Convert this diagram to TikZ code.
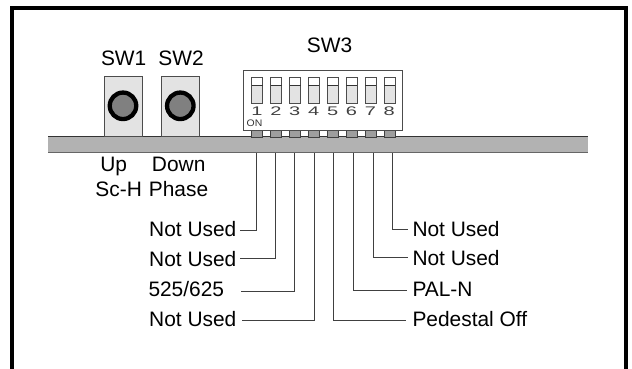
\documentclass[tikz,border=0pt]{standalone}
\usepackage{fontspec}
\setmainfont{Liberation Sans}
\definecolor{barfill}{gray}{0.70}
\definecolor{swfill}{gray}{0.89}
\definecolor{capfill}{gray}{0.5}
\definecolor{tabfill}{gray}{0.62}
\begin{document}
\begin{tikzpicture}[x=1pt,y=-1pt,
  lbl/.style={font=\fontsize{20.9}{22}\selectfont,inner sep=0pt,text=black},
  lblw/.style={lbl,anchor=base west},
  lblc/.style={lbl,anchor=base},
  wire/.style={draw=black!75,line width=0.9pt},
  pushsw/.style={draw=black!70,fill=swfill,line width=0.8pt},
  knob/.style={circle,draw=black,fill=capfill,line width=4.3pt,minimum size=26.5pt,inner sep=0pt},
  digit/.style={font=\fontsize{12.5}{14}\selectfont,inner sep=0pt,anchor=base,text=black!75},
  dip/.style={draw=black!70,fill=swfill,line width=0.6pt}]
\useasboundingbox (0,0) rectangle (632,369);
\path[fill=white] (0,0) rectangle (632,369);
% frame
\draw[line width=4pt,line cap=butt] (12,369) -- (12,8) -- (626,8) -- (626,369);
% bar
\draw[fill=barfill,draw=none] (48,136.5) rectangle (588,152.5);
\draw[line width=1.2pt,black!80] (48,136.5) -- (588,136.5);
\draw[line width=1.2pt,black!60] (48,152.5) -- (588,152.5);
% SW3 tabs
\foreach \i in {0,...,7}{
  \path[draw=black!75,fill=tabfill,line width=0.6pt] ({251.7+18.9*\i},130) rectangle ({262.7+18.9*\i},137.3);
}
% SW1, SW2
\draw[pushsw] (104,76) rectangle (142,136);
\draw[pushsw] (161.5,76) rectangle (199,136);
\node[knob] (k1) at (123,105.8) {};
\node[knob] (k2) at (180.3,105.8) {};
% SW3 body
\draw[draw=black!70,fill=white,line width=0.7pt] (243.4,70) rectangle (402,130);
\foreach \i [count=\n] in {0,...,7}{
  \path[dip,fill=white] ({251.7+18.9*\i},77) rectangle ({262.7+18.9*\i},85);
  \path[dip] ({251.7+18.9*\i},85) rectangle ({262.7+18.9*\i},103.3);
  \draw[line width=0.9pt,black!80] ({251.7+18.9*\i},85) -- ({262.7+18.9*\i},85);
  \node[digit] at ({257+18.9*\i},115.3) {\scalebox{1.6}[1]{\n}};
}
\node[inner sep=0pt,anchor=base,font=\fontsize{9.5}{10}\selectfont,text=black!80] (on) at (254.5,126) {\scalebox{1.1}[1]{ON}};
% headings
\node[lblc] (sw1) at (123.7,65.7) {SW1};
\node[lblc] (sw2) at (181,65.7) {SW2};
\node[lblc] (sw3) at (329.5,53) {SW3};
\node[lblc] (up) at (113.7,171.7) {Up};
\node[lblc] (down) at (178.7,171.7) {Down};
\node[lblc] (sch) at (118.7,196.7) {Sc-H};
\node[lblc] (phase) at (178.5,196.7) {Phase};
% labels
\node[lblw] (l1) at (149,236.7) {Not Used};
\node[lblw] (l2) at (149,266.7) {Not Used};
\node[lblw] (l3) at (148.3,296.7) {525/625};
\node[lblw] (l4) at (149,326.7) {Not Used};
\node[lblw] (r8) at (412.3,236.7) {Not Used};
\node[lblw] (r7) at (412.3,265) {Not Used};
\node[lblw] (r6) at (412.3,296.7) {PAL-N};
\node[lblw] (r5) at (412.3,326.7) {Pedestal Off};
% connector ends
\coordinate (p1) at (256,153);
\coordinate (p2) at (275,153);
\coordinate (p3) at (294.7,153);
\coordinate (p4) at (314.3,153);
\coordinate (p5) at (333.7,153);
\coordinate (p6) at (353.3,153);
\coordinate (p7) at (373,153);
\coordinate (p8) at (392.3,153);
\coordinate (e1) at (240.3,230);
\coordinate (e2) at (240,258);
\coordinate (e3) at (241,291);
\coordinate (e4) at (242.3,320.3);
\coordinate (e5) at (406,320);
\coordinate (e6) at (406.7,290.3);
\coordinate (e7) at (407.7,257.7);
\coordinate (e8) at (407.7,229);
\foreach \n in {1,...,8}{
  \draw[wire] (p\n) |- (e\n);
}
\end{tikzpicture}
\end{document}
